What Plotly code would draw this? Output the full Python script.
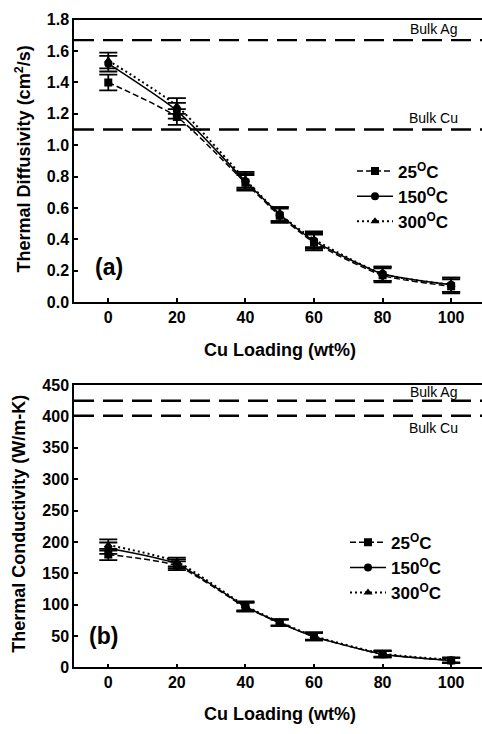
import plotly.graph_objects as go

W, H = 482, 734

# Cu loading (wt%)
cu_loading = [0, 20, 40, 50, 60, 80, 100]
temps = ["25<sup>O</sup>C", "150<sup>O</sup>C", "300<sup>O</sup>C"]

# Thermal diffusivity (cm^2/s) and its uncertainty
diff_25 = [1.40, 1.18, 0.76, 0.55, 0.38, 0.17, 0.10]
diff_150 = [1.52, 1.22, 0.77, 0.56, 0.39, 0.18, 0.11]
diff_300 = [1.54, 1.25, 0.78, 0.56, 0.40, 0.18, 0.11]
diff_err = [0.05, 0.05, 0.05, 0.045, 0.05, 0.045, 0.045]

# Thermal conductivity (W/m-K) and its uncertainty
cond_25 = [180, 162, 96, 71, 49, 21, 11]
cond_150 = [190, 165, 97, 71, 49, 21, 11]
cond_300 = [195, 168, 98, 72, 50, 22, 12]
cond_err = [9, 7, 7, 5, 6, 5, 4]

# Reference values of the bulk metals
bulk_diff = {"Bulk Ag": 1.67, "Bulk Cu": 1.10}
bulk_cond = {"Bulk Ag": 425, "Bulk Cu": 401}

diff_ticks = [0.0, 0.2, 0.4, 0.6, 0.8, 1.0, 1.2, 1.4, 1.6, 1.8]
cond_ticks = [0, 50, 100, 150, 200, 250, 300, 350, 400, 450]
x_ticks = [0, 20, 40, 60, 80, 100]

FONT = "Liberation Sans, Arial, sans-serif"
styles = [("6px,3px", "square"), ("solid", "circle"), ("2px,3px", "triangle-up")]


def px_y(p):
    return 1 - p / H


def px_x(p):
    return p / W


fig = go.Figure()

panels = [
    ("x", "y", [diff_25, diff_150, diff_300], diff_err, "legend"),
    ("x2", "y2", [cond_25, cond_150, cond_300], cond_err, "legend2"),
]
for xa, ya, series, err, leg in panels:
    for name, vals, (dash, sym) in zip(temps, series, styles):
        fig.add_trace(go.Scatter(
            x=cu_loading, y=vals, xaxis=xa, yaxis=ya, name=name, legend=leg,
            mode="lines+markers",
            line=dict(color="black", width=2 if dash == "2px,3px" else 1.5,
                      dash=dash, shape="spline", smoothing=0.6),
            marker=dict(symbol=sym, size=8, color="black"),
            error_y=dict(type="data", array=err, visible=True, color="black",
                         thickness=1.8, width=9),
        ))

# bulk reference lines
for xa, ya, bulk in [("x", "y", bulk_diff), ("x2", "y2", bulk_cond)]:
    for label, v in bulk.items():
        fig.add_trace(go.Scatter(
            x=[-10, 110], y=[v, v], xaxis=xa, yaxis=ya, mode="lines",
            showlegend=False, hoverinfo="skip",
            line=dict(color="black", width=2.4, dash="20px,9px"),
        ))

axis_common = dict(
    showline=True, linecolor="black", linewidth=1.5, ticks="inside",
    ticklen=4, tickwidth=1.5, tickcolor="black", showgrid=False, zeroline=False,
    tickfont=dict(family=FONT, size=16, color="black", weight="bold"),
)

legend_font = dict(family=FONT, size=17, color="black", weight="bold")
dom_x = [px_x(74), 1.0]
fig.update_layout(
    width=W, height=H, margin=dict(l=0, r=0, t=0, b=0),
    paper_bgcolor="white", plot_bgcolor="white",
    font=dict(family=FONT, color="black"),
    xaxis=dict(domain=dom_x, range=[-10, 109], tickvals=x_ticks, anchor="y",
               mirror=True, **axis_common),
    yaxis=dict(domain=[px_y(301), px_y(12)], range=[0, 1.8], tickvals=diff_ticks,
               tickformat=".1f", anchor="x", **axis_common),
    xaxis2=dict(domain=dom_x, range=[-10, 109], tickvals=x_ticks, anchor="y2",
                mirror=True, **axis_common),
    yaxis2=dict(domain=[px_y(675), px_y(386)], range=[0, 450], tickvals=cond_ticks,
                anchor="x2", **axis_common),
    legend=dict(x=px_x(352), y=px_y(149), xanchor="left", yanchor="top",
                bgcolor="rgba(0,0,0,0)", tracegroupgap=0, itemwidth=36,
                font=legend_font),
    legend2=dict(x=px_x(345), y=px_y(529), xanchor="left", yanchor="top",
                 bgcolor="rgba(0,0,0,0)", tracegroupgap=0, itemwidth=36,
                 font=legend_font),
    showlegend=True,
)

ann = []
bold = dict(family=FONT, size=18, color="black", weight="bold")
ann.append(dict(text="Thermal Diffusivity (cm<sup>2</sup>/s)", x=px_x(23), y=px_y(155),
                textangle=-90, font=bold))
ann.append(dict(text="Thermal Conductivity (W/m-K)", x=px_x(19), y=px_y(528),
                textangle=-90, font=bold))
ann.append(dict(text="Cu Loading (wt%)", x=px_x(280), y=px_y(350), font=bold))
ann.append(dict(text="Cu Loading (wt%)", x=px_x(280), y=px_y(723), font=bold))
big = dict(family=FONT, size=23, color="black", weight="bold")
ann.append(dict(text="(a)", x=px_x(109), y=px_y(265), font=big))
ann.append(dict(text="(b)", x=px_x(103), y=px_y(643), font=big))
small = dict(family=FONT, size=14, color="black")
ann.append(dict(text="Bulk Ag", x=px_x(433), y=px_y(22), font=small))
ann.append(dict(text="Bulk Cu", x=px_x(433), y=px_y(113), font=small))
ann.append(dict(text="Bulk Ag", x=px_x(433), y=px_y(393), font=small))
ann.append(dict(text="Bulk Cu", x=px_x(433), y=px_y(430), font=small))
for a in ann:
    a.update(xref="paper", yref="paper", showarrow=False, xanchor="center",
             yanchor="middle")
fig.update_layout(annotations=ann)

fig.write_html("out.html")
